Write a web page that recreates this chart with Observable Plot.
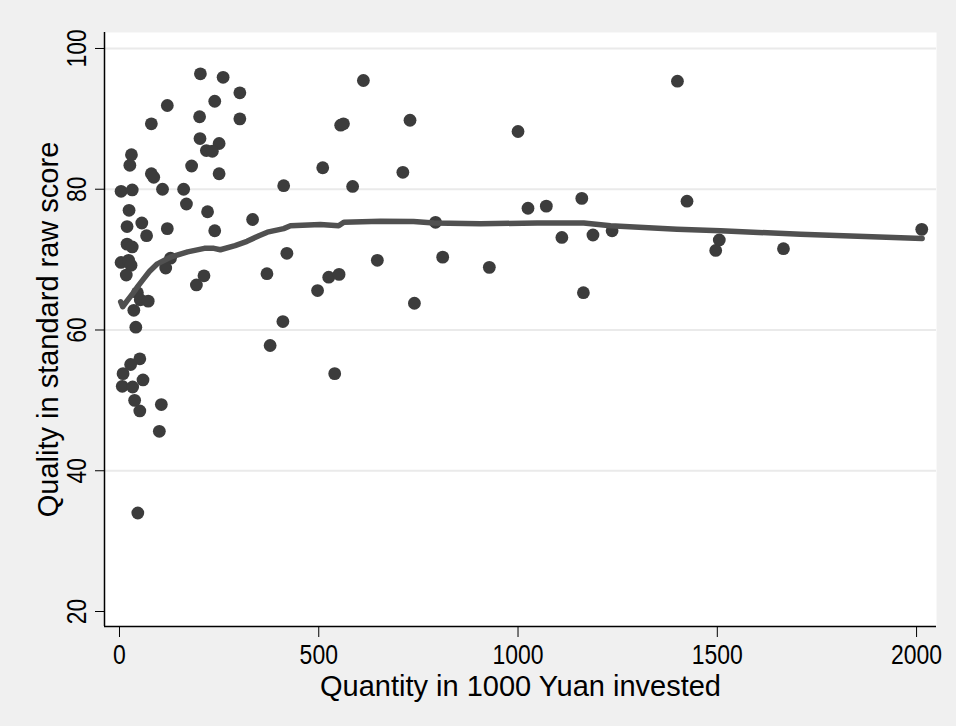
<!DOCTYPE html>
<html>
<head>
<meta charset="utf-8">
<script src="https://cdn.jsdelivr.net/npm/d3@7"></script>
<script src="https://cdn.jsdelivr.net/npm/@observablehq/plot@0.6"></script>
<style>
  html, body { margin: 0; padding: 0; background: #ffffff; }
  #chart { width: 956px; height: 726px; }
</style>
</head>
<body>
<div id="chart"></div>
<script>
// Scatter data: quantity (1000 Yuan) and quality score
const quantity = [
  4, 32, 30, 26, 80, 120, 80, 86, 108, 24, 19, 56, 120, 68, 19, 32, 128, 4, 23, 29, 116, 17,
  45, 52, 72, 36, 41, 51, 28, 9, 59, 7, 33, 38, 51, 105, 100, 46,
  203, 260, 302, 239, 201, 302, 202, 250, 218, 233, 181, 250, 161, 168, 221, 334, 239,
  412, 420, 370, 212, 193, 410, 378,
  612, 555, 562, 729, 510, 711, 585, 793, 647, 811, 525, 551, 497, 740, 540,
  1000, 1400, 1160, 1424, 1025, 1071, 1110, 1188, 1236, 928, 1164, 1505, 1496, 1666, 2013
];
const quality = [
  79.7, 79.9, 84.9, 83.4, 89.3, 91.9, 82.2, 81.7, 80.0, 77.0, 74.7, 75.2, 74.4, 73.4, 72.2, 71.8, 70.2, 69.6, 69.9, 69.2, 68.8, 67.8,
  65.3, 64.3, 64.1, 62.8, 60.4, 55.9, 55.1, 53.8, 52.9, 52.0, 51.9, 50.0, 48.5, 49.4, 45.6, 34.0,
  96.4, 95.9, 93.7, 92.5, 90.3, 90.0, 87.2, 86.5, 85.5, 85.4, 83.3, 82.2, 80.0, 77.9, 76.8, 75.7, 74.1,
  80.5, 70.9, 68.0, 67.7, 66.4, 61.2, 57.8,
  95.45, 89.1, 89.3, 89.8, 83.05, 82.4, 80.4, 75.3, 69.9, 70.35, 67.5, 67.9, 65.6, 63.8, 53.8,
  88.2, 95.35, 78.7, 78.3, 77.3, 77.6, 73.15, 73.5, 74.1, 68.9, 65.3, 72.8, 71.3, 71.55, 74.3
];

// Lowess smooth
const smoothX = [3, 8, 20, 35, 46, 61, 75, 95, 130, 171, 213, 237, 253, 290, 320, 350, 371, 412, 429, 504, 550, 563, 655, 738, 789, 906, 1048, 1165, 1232, 1399, 1508, 1709, 2014];
const smoothY = [64.0, 63.3, 64.2, 65.3, 66.2, 67.3, 68.3, 69.4, 70.4, 71.1, 71.6, 71.6, 71.4, 72.0, 72.6, 73.4, 73.9, 74.4, 74.8, 75.0, 74.8, 75.3, 75.45, 75.4, 75.2, 75.1, 75.2, 75.2, 74.8, 74.3, 74.1, 73.6, 73.0];

const xTicks = [0, 500, 1000, 1500, 2000];
const yTicks = [20, 40, 60, 80, 100];
const yGrid = [40, 60, 80, 100];
const xLabel = "Quantity in 1000 Yuan invested";
const yLabel = "Quality in standard raw score";

const points = quantity.map((q, i) => ({x: q, y: quality[i]}));
const smooth = smoothX.map((v, i) => ({x: v, y: smoothY[i]}));

const xDomain = [-37.6, 2050];
const yDomain = [17.87, 102.27];
const fam = "'Liberation Sans', Arial, sans-serif";

const chart = Plot.plot({
  width: 956,
  height: 726,
  marginLeft: 104,
  marginRight: 20,
  marginTop: 32,
  marginBottom: 100,
  style: {background: "#f0f0f0", fontFamily: fam, color: "#000"},
  x: {domain: xDomain},
  y: {domain: yDomain},
  marks: [
    Plot.frame({fill: "#ffffff", stroke: null}),
    Plot.gridY(yGrid, {stroke: "#eaeaea", strokeOpacity: 1, strokeWidth: 2}),
    Plot.ruleX([xDomain[0]], {stroke: "#000", strokeWidth: 1.5}),
    Plot.ruleY([yDomain[0]], {stroke: "#000", strokeWidth: 1.5}),
    Plot.axisX({ticks: xTicks, tickFormat: d => String(d), tickSize: 11, tickPadding: 7, fontSize: 28, label: null, stroke: "#000"}),
    Plot.axisY({ticks: yTicks, tickFormat: d => String(d), tickSize: 9, tickPadding: 10, tickRotate: -90, fontSize: 28, label: null, stroke: "#000"}),
    Plot.text([xLabel], {frameAnchor: "bottom", dy: 69, lineAnchor: "bottom", fontSize: 29, fill: "#000"}),
    Plot.text([yLabel], {frameAnchor: "left", dx: -47, rotate: -90, textAnchor: "middle", lineAnchor: "bottom", fontSize: 29, fill: "#000"}),
    Plot.dot(points, {x: "x", y: "y", r: 6.4, fill: "#3c3c3c", stroke: null}),
    Plot.line(smooth, {x: "x", y: "y", stroke: "#505050", strokeWidth: 5.5, strokeLinejoin: "round", strokeLinecap: "round"})
  ]
});
// Condense tick label glyphs horizontally (narrow font look of the original)
d3.select(chart).selectAll("g[aria-label='x-axis tick label'] text, g[aria-label='y-axis tick label'] text")
  .each(function() {
    const t = this.getAttribute("transform");
    if (t) {
      this.setAttribute("transform", t + " scale(0.82,1)");
    } else {
      const x = +(this.getAttribute("x") || 0), y = +(this.getAttribute("y") || 0);
      this.removeAttribute("x");
      this.removeAttribute("y");
      this.setAttribute("transform", `translate(${x},${y}) scale(0.82,1)`);
    }
  });
document.getElementById("chart").appendChild(chart);
</script>
</body>
</html>
